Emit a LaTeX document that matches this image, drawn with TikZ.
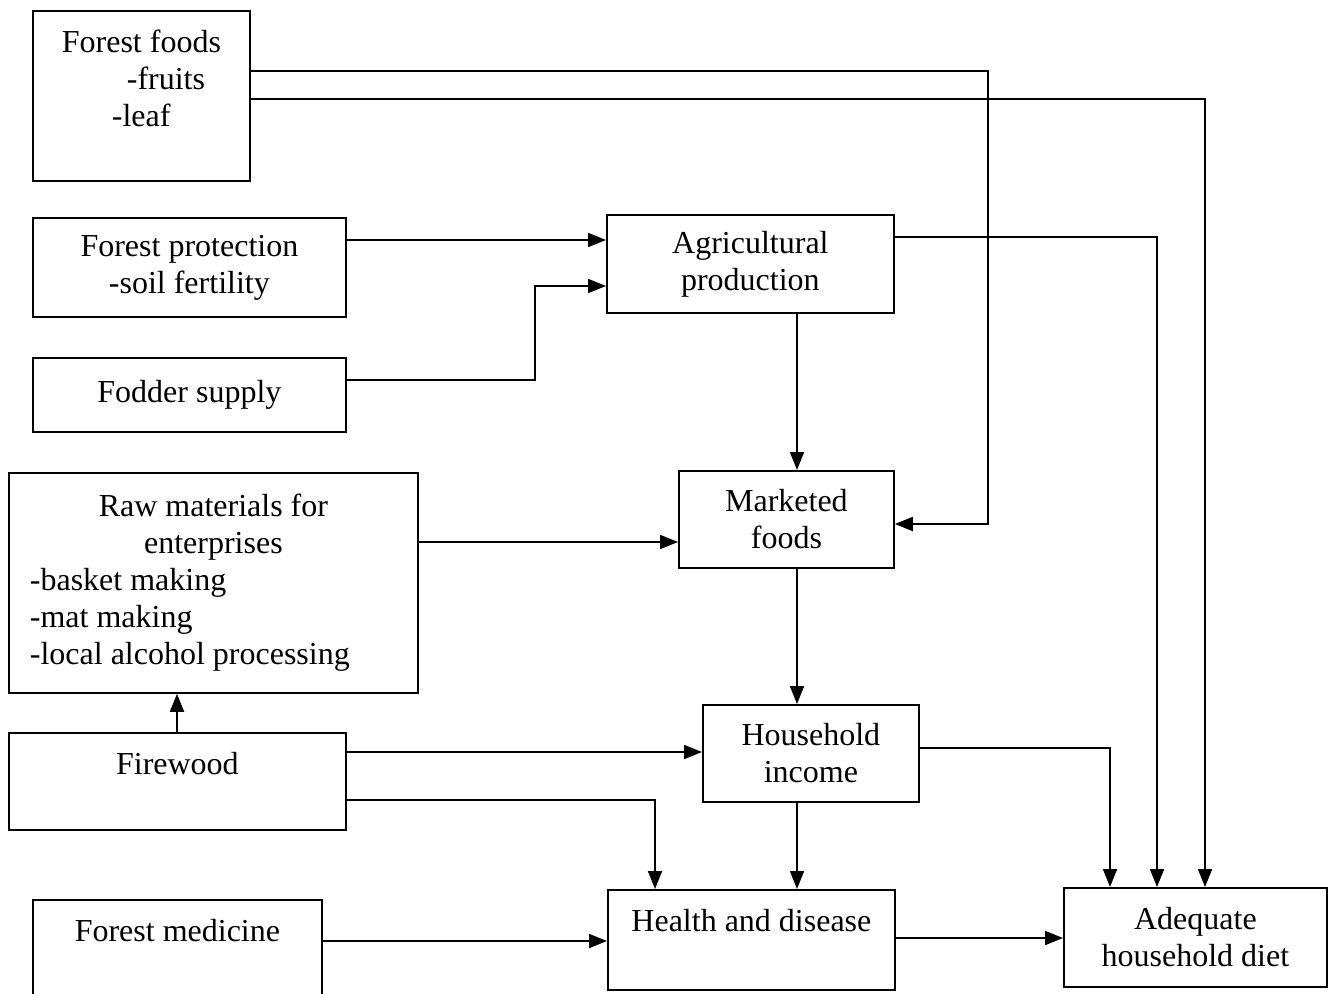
\documentclass[tikz,border=0pt]{standalone}
\usepackage{fontspec}
\setmainfont{Liberation Serif}
\usetikzlibrary{arrows.meta}
\tikzset{frame/.style={draw,line width=0.9pt,anchor=north west,
    font=\fontsize{16}{18.5}\selectfont},
  box/.style={frame,align=center},
  topbox/.style={frame,inner ysep=10pt,text height=11pt},
  edge/.style={-{Triangle[length=9pt,width=7pt]},line width=0.9pt}}

\begin{document}
\begin{tikzpicture}[x=0.5pt,y=-0.5pt]
    \useasboundingbox (0,0) rectangle (1331,994);
    \node[topbox,minimum width=108.5pt,text depth=54pt] (ff) at (32,10)
      {\begin{tabular}[t]{@{}l@{}}Forest foods\\\hspace*{32.5pt}-fruits\\\hspace*{25pt}-leaf\end{tabular}};
    \node[box,minimum width=156.5pt,minimum height=49.5pt] (fp) at (32,217) {Forest protection\\-soil fertility};
    \node[box,minimum width=156.5pt,minimum height=37pt] (fs) at (32,357) {Fodder supply};
    \node[frame,inner xsep=10.5pt,minimum height=110pt] (rm) at (8,472)
      {\parbox{183.5pt}{\centering Raw materials for\\enterprises\par
       \raggedright -basket making\\-mat making\\-local alcohol processing}};
    \node[topbox,minimum width=168.5pt,text depth=17.5pt] (fw) at (8,732) {Firewood};
    \node[topbox,minimum width=144.5pt,text depth=17.5pt] (fm) at (32,899) {Forest medicine};
    \node[box,minimum width=143.5pt,minimum height=49pt] (ap) at (606,214) {Agricultural\\production};
    \node[box,minimum width=107.5pt,minimum height=48.5pt] (mf) at (678,470) {Marketed\\foods};
    \node[box,minimum width=108pt,minimum height=48.5pt] (hi) at (702,704) {Household\\income};
    \node[topbox,minimum width=143.5pt,text depth=19pt] (hd) at (607,889) {Health and disease};
    \node[box,minimum width=131.5pt,minimum height=49.5pt] (ad) at (1063,887) {Adequate\\household diet};
    \draw[edge] (ff.east |- 0,71) -- (988,71) |- (mf.east |- 0,524);
    \draw[edge] (ff.east |- 0,99) -- (1205,99) -- (1205,0 |- ad.north);
    \draw[edge] (fp.east |- 0,240) -- (ap.west |- 0,240);
    \draw[edge] (fs.east |- 0,380) -- (535,380) |- (ap.west |- 0,286);
    \draw[edge] (ap.east |- 0,237) -- (1157,237) -- (1157,0 |- ad.north);
    \draw[edge] (797,0 |- ap.south) -- (797,0 |- mf.north);
    \draw[edge] (rm.east |- 0,542) -- (mf.west |- 0,542);
    \draw[edge] (797,0 |- mf.south) -- (797,0 |- hi.north);
    \draw[edge] (177,0 |- fw.north) -- (177,0 |- rm.south);
    \draw[edge] (fw.east |- 0,752) -- (hi.west |- 0,752);
    \draw[edge] (fw.east |- 0,800) -- (655,800) -- (655,0 |- hd.north);
    \draw[edge] (797,0 |- hi.south) -- (797,0 |- hd.north);
    \draw[edge] (hi.east |- 0,748) -- (1110,748) -- (1110,0 |- ad.north);
    \draw[edge] (fm.east |- 0,941) -- (hd.west |- 0,941);
    \draw[edge] (hd.east |- 0,938) -- (ad.west |- 0,938);
\end{tikzpicture}
\end{document}
